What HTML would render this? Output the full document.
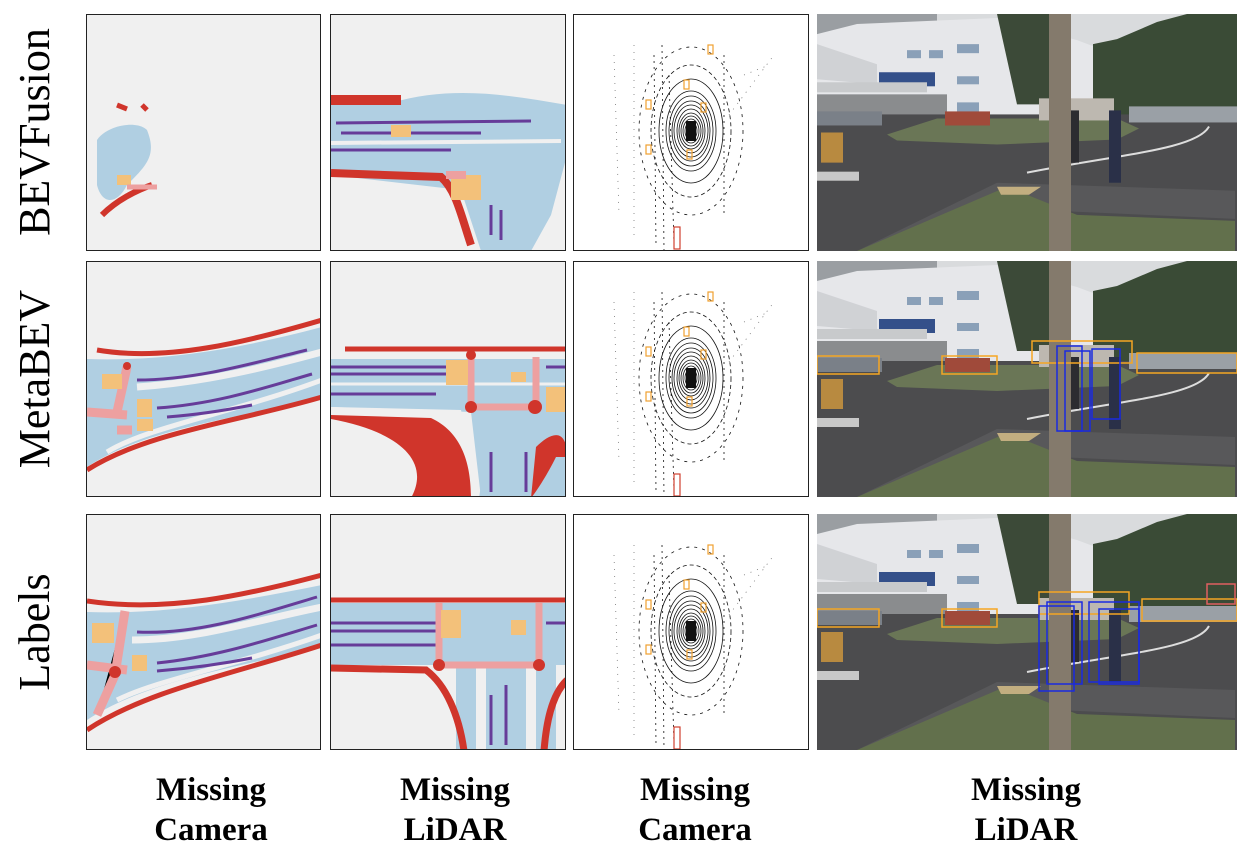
<!DOCTYPE html>
<html><head><meta charset="utf-8"><style>
body{margin:0;background:#fff;width:1240px;height:856px;position:relative;overflow:hidden;font-family:"Liberation Serif",serif}
.p{position:absolute;border:1px solid #222;box-sizing:border-box;overflow:hidden}
.rl{position:absolute;font-size:44px;transform:rotate(-90deg);transform-origin:center;white-space:nowrap;text-align:center;width:240px;height:50px;line-height:50px}
.bl{position:absolute;font-weight:bold;font-size:33px;text-align:center;line-height:40px;width:220px}
svg{display:block}
</style></head><body>
<svg width="0" height="0" style="position:absolute">
<defs>
<symbol id="photo" viewBox="0 0 420 236">
<rect width="420" height="236" fill="#d9dbdd"/>
<rect x="0" y="0" width="120" height="22" fill="#9a9ea2"/>
<polygon points="0,20 40,10 180,4 260,26 276,32 276,100 0,100" fill="#e6e7ea"/>
<polygon points="0,30 60,50 60,70 0,65" fill="#d0d2d5"/>
<rect x="62" y="58" width="56" height="14" fill="#34508a"/>
<rect x="0" y="68" width="110" height="10" fill="#c8cacc"/>
<rect x="0" y="80" width="130" height="25" fill="#8a8c8e"/>
<rect x="140" y="30" width="22" height="9" fill="#8aa0b8"/><rect x="140" y="62" width="22" height="8" fill="#8aa0b8"/><rect x="140" y="88" width="22" height="12" fill="#8aa0b8"/>
<rect x="90" y="36" width="14" height="8" fill="#8aa0b8"/><rect x="112" y="36" width="14" height="8" fill="#8aa0b8"/>
<polygon points="180,0 240,0 236,90 200,90" fill="#3c4a38"/>
<polygon points="276,30 300,25 340,8 370,0 420,0 420,105 276,100" fill="#3a4b36"/>
<rect x="0" y="100" width="420" height="136" fill="#4c4c4e"/>
<polygon points="70,120 120,104 300,104 322,114 300,125 180,130 80,126" fill="#6a7656"/>
<rect x="0" y="97" width="65" height="14" fill="#7a8088"/>
<rect x="128" y="97" width="45" height="14" fill="#a04a3a"/>
<rect x="222" y="84" width="75" height="22" fill="#bdb8b0"/>
<rect x="312" y="92" width="108" height="16" fill="#9aa0a6"/>
<rect x="4" y="118" width="22" height="30" fill="#b88a40"/>
<rect x="0" y="157" width="42" height="9" fill="#c8c8c8"/>
<polygon points="40,236 180,168 418,176 418,204 240,196 220,236" fill="#58585a"/>
<polygon points="40,236 190,172 260,200 418,206 418,236" fill="#62704c"/>
<polygon points="180,172 224,172 212,180 184,180" fill="#c2ae80"/>
<path d="M210,158 C300,140 380,135 392,112" stroke="#ddd" stroke-width="2" fill="none"/>
<rect x="250" y="96" width="12" height="52" fill="#2c2c30"/>
<rect x="292" y="96" width="12" height="72" fill="#2a3048"/>
<rect x="232" y="0" width="22" height="236" fill="#847a6c"/>
</symbol>
<symbol id="lidar" viewBox="0 0 235 236">
<rect width="235" height="236" fill="#fff"/>
<g fill="none" stroke="#111" stroke-width="0.8">
<ellipse cx="117" cy="116" rx="4" ry="6"/><ellipse cx="117" cy="116" rx="6" ry="9"/><ellipse cx="117" cy="116" rx="8" ry="12"/><ellipse cx="117" cy="116" rx="10" ry="15"/><ellipse cx="117" cy="116" rx="12" ry="18"/><ellipse cx="117" cy="116" rx="14" ry="22"/>
<ellipse cx="117" cy="116" rx="17" ry="26"/><ellipse cx="117" cy="116" rx="19" ry="30"/><ellipse cx="117" cy="116" rx="22" ry="35"/><ellipse cx="117" cy="116" rx="25" ry="40"/><ellipse cx="117" cy="116" rx="32" ry="52"/>
<ellipse cx="117" cy="116" rx="40" ry="66" stroke-dasharray="4 3"/><ellipse cx="117" cy="116" rx="52" ry="84" stroke-dasharray="3 5"/>
<path d="M80,40 L82,230 M88,30 L90,236 M150,40 L150,200 M95,60 L100,230" stroke-dasharray="2 4"/>
<path d="M40,40 L45,200 M60,30 L60,220 M170,60 L195,50 M155,100 L200,40" stroke="#777" stroke-dasharray="1 6"/>
</g>
<rect x="112" y="106" width="10" height="20" fill="#111"/>
<g fill="none" stroke="#f0a030" stroke-width="1.2">
<rect x="134" y="30" width="5" height="9"/><rect x="110" y="65" width="5" height="9"/><rect x="72" y="85" width="5" height="9"/><rect x="127" y="88" width="5" height="9"/><rect x="72" y="130" width="5" height="9"/><rect x="113" y="135" width="5" height="9"/>
</g>
<rect x="100" y="212" width="6" height="22" fill="none" stroke="#d04030" stroke-width="1.2"/>
</symbol>
</defs></svg>

<div class="rl" style="left:-85px;top:107px">BEVFusion</div>
<div class="rl" style="left:-85px;top:354px">MetaBEV</div>
<div class="rl" style="left:-85px;top:607px">Labels</div>

<!-- Row 1 -->
<div class="p" style="left:86px;top:14px;width:235px;height:237px"><svg width="235" height="236">
<rect width="235" height="236" fill="#f0f0f0"/>
<path d="M10,125 C20,110 50,105 60,115 C70,140 60,150 40,170 C30,190 15,190 10,170 Z" fill="#b0cfe2"/>
<path d="M15,200 C30,185 50,175 65,170" stroke="#d0352b" stroke-width="6" fill="none"/>
<path d="M30,90 L40,94 M55,90 L60,95" stroke="#d0352b" stroke-width="5"/>
<rect x="30" y="160" width="14" height="10" fill="#f3c17a"/>
<path d="M40,172 L70,172" stroke="#eda0a0" stroke-width="5"/>
</svg></div>
<div class="p" style="left:330px;top:14px;width:236px;height:237px"><svg width="236" height="236">
<rect width="236" height="236" fill="#f0f0f0"/>
<path d="M0,90 L60,88 C120,70 180,80 236,90 L236,140 L220,200 L200,236 L150,236 L130,175 L0,160 Z" fill="#b0cfe2"/>
<path d="M0,85 L70,85" stroke="#d0352b" stroke-width="10"/>
<path d="M0,158 L110,162 C125,175 130,200 140,230" stroke="#d0352b" stroke-width="8" fill="none"/>
<path d="M5,108 L200,106 M10,118 L150,118 M0,135 L120,135" stroke="#663c99" stroke-width="3"/>
<path d="M0,128 L230,126" stroke="#f0f0f0" stroke-width="4"/>
<rect x="120" y="160" width="30" height="25" fill="#f3c17a"/><rect x="60" y="110" width="20" height="12" fill="#f3c17a"/>
<path d="M115,160 L135,160" stroke="#eda0a0" stroke-width="8"/>
<path d="M160,190 L160,220 M170,195 L170,225" stroke="#663c99" stroke-width="3"/>
</svg></div>
<div class="p" style="left:573px;top:14px;width:236px;height:237px"><svg width="235" height="236"><use href="#lidar"/></svg></div>
<div style="position:absolute;left:817px;top:14px;width:420px;height:237px"><svg width="420" height="237" preserveAspectRatio="none" viewBox="0 0 420 236"><use href="#photo"/></svg></div>

<!-- Row 2 -->
<div class="p" style="left:86px;top:261px;width:235px;height:236px"><svg width="235" height="236">
<rect width="235" height="236" fill="#f0f0f0"/>
<path d="M0,97 C80,100 160,85 235,65 L235,135 C160,155 60,165 0,205 Z" fill="#b0cfe2"/>
<path d="M10,88 C80,100 160,80 235,58" stroke="#d0352b" stroke-width="5" fill="none"/>
<path d="M0,208 C60,170 150,160 235,135" stroke="#d0352b" stroke-width="5" fill="none"/>
<path d="M50,125 C120,120 180,105 235,90" stroke="#f0f0f0" stroke-width="7" fill="none"/>
<path d="M20,190 C60,165 150,150 235,118" stroke="#f0f0f0" stroke-width="5" fill="none"/>
<path d="M50,118 C110,118 170,100 220,88 M70,146 C130,142 180,125 225,112 M80,155 C120,152 150,146 165,143" stroke="#663c99" stroke-width="3" fill="none"/>
<path d="M40,105 L30,150 M0,150 L40,153 M30,168 L45,168" stroke="#eda0a0" stroke-width="9"/>
<rect x="15" y="112" width="20" height="15" fill="#f3c17a"/><rect x="50" y="137" width="15" height="18" fill="#f3c17a"/><rect x="50" y="157" width="16" height="12" fill="#f3c17a"/>
<circle cx="40" cy="104" r="4" fill="#d0352b"/>
</svg></div>
<div class="p" style="left:330px;top:261px;width:236px;height:236px"><svg width="236" height="236">
<rect width="236" height="236" fill="#f0f0f0"/>
<path d="M0,97 L236,97 L236,145 L236,236 L150,236 L140,150 L0,145 Z" fill="#b0cfe2"/>
<path d="M0,145 L130,148 L150,236 L125,236 Z" fill="#f0f0f0"/>
<path d="M80,236 C100,200 70,170 0,157 L0,153 L100,156 C130,170 140,200 140,236 Z" fill="#d0352b"/>
<path d="M148,236 L160,160 L220,160 L236,236 Z" fill="#b0cfe2"/>
<path d="M14,87 L236,87" stroke="#d0352b" stroke-width="5"/>
<path d="M0,105 L140,105 M0,112 L140,112 M0,132 L105,132 M215,105 L236,105 M215,132 L236,132 M160,190 L160,230 M195,190 L195,230" stroke="#663c99" stroke-width="3"/>
<path d="M0,122 L236,122" stroke="#f0f0f0" stroke-width="3"/>
<path d="M140,95 L140,145 M205,95 L205,145 M140,145 L205,145" stroke="#eda0a0" stroke-width="7"/>
<circle cx="140" cy="145" r="6" fill="#d0352b"/><circle cx="204" cy="145" r="7" fill="#d0352b"/><circle cx="140" cy="93" r="5" fill="#d0352b"/>
<rect x="115" y="98" width="22" height="25" fill="#f3c17a"/><rect x="180" y="110" width="15" height="10" fill="#f3c17a"/><rect x="215" y="125" width="20" height="25" fill="#f3c17a"/>
<path d="M205,185 C220,170 236,165 236,195 L225,195 C215,215 205,230 200,236 Z" fill="#d0352b"/>
</svg></div>
<div class="p" style="left:573px;top:261px;width:236px;height:236px"><svg width="235" height="236"><use href="#lidar"/></svg></div>
<div style="position:absolute;left:817px;top:261px;width:420px;height:236px"><svg width="420" height="236" viewBox="0 0 420 236" preserveAspectRatio="none"><use href="#photo"/>
<g fill="none" stroke="#f5a623" stroke-width="1.5"><rect x="0" y="95" width="62" height="18"/><rect x="125" y="95" width="55" height="18"/><rect x="215" y="80" width="100" height="22"/><rect x="320" y="92" width="100" height="20"/></g>
<g fill="none" stroke="#1a2ae0" stroke-width="1.5"><rect x="240" y="85" width="25" height="85"/><rect x="248" y="90" width="25" height="80"/><rect x="275" y="88" width="28" height="70"/></g>
</svg></div>

<!-- Row 3 -->
<div class="p" style="left:86px;top:514px;width:235px;height:236px"><svg width="235" height="236">
<rect width="235" height="236" fill="#f0f0f0"/>
<path d="M0,97 C80,100 160,85 235,70 L235,132 C160,150 60,165 0,205 Z" fill="#b0cfe2"/>
<path d="M0,86 C80,98 160,80 235,60" stroke="#d0352b" stroke-width="5" fill="none"/>
<path d="M0,215 C60,175 150,158 235,130" stroke="#d0352b" stroke-width="5" fill="none"/>
<path d="M45,125 C110,125 170,105 235,92" stroke="#f0f0f0" stroke-width="7" fill="none"/>
<path d="M30,185 C70,165 150,150 235,120" stroke="#f0f0f0" stroke-width="5" fill="none"/>
<path d="M50,117 C110,120 170,100 230,82 M70,148 C130,142 180,125 230,110 M70,156 C120,152 150,146 165,143" stroke="#663c99" stroke-width="3" fill="none"/>
<path d="M38,96 L28,160 L10,200 M0,150 L40,155" stroke="#eda0a0" stroke-width="9"/>
<circle cx="28" cy="157" r="6" fill="#d0352b"/>
<rect x="5" y="108" width="22" height="20" fill="#f3c17a"/><rect x="45" y="140" width="15" height="16" fill="#f3c17a"/>
</svg></div>
<div class="p" style="left:330px;top:514px;width:236px;height:236px"><svg width="236" height="236">
<rect width="236" height="236" fill="#f0f0f0"/>
<path d="M0,88 L236,88 L236,150 L0,150 Z" fill="#b0cfe2"/>
<path d="M125,150 L225,150 L225,236 L125,236 Z" fill="#b0cfe2"/>
<path d="M150,150 L150,236 M200,150 L200,236" stroke="#f0f0f0" stroke-width="10"/>
<path d="M0,85 L236,85" stroke="#d0352b" stroke-width="5"/>
<path d="M0,153 L95,155 C115,170 128,200 133,236" stroke="#d0352b" stroke-width="7" fill="none"/>
<path d="M236,165 C220,180 215,210 213,236" stroke="#d0352b" stroke-width="7" fill="none"/>
<path d="M0,108 L105,108 M0,116 L105,116 M0,130 L105,130 M160,180 L160,230 M175,170 L175,230 M215,108 L236,108" stroke="#663c99" stroke-width="3"/>
<path d="M108,88 L108,150 M208,88 L208,150 M108,150 L208,150" stroke="#eda0a0" stroke-width="7"/>
<circle cx="108" cy="150" r="6" fill="#d0352b"/><circle cx="208" cy="150" r="6" fill="#d0352b"/>
<rect x="110" y="95" width="20" height="28" fill="#f3c17a"/><rect x="180" y="105" width="15" height="15" fill="#f3c17a"/>
</svg></div>
<div class="p" style="left:573px;top:514px;width:236px;height:236px"><svg width="235" height="236"><use href="#lidar"/></svg></div>
<div style="position:absolute;left:817px;top:514px;width:420px;height:236px"><svg width="420" height="236" viewBox="0 0 420 236" preserveAspectRatio="none"><use href="#photo"/>
<g fill="none" stroke="#f5a623" stroke-width="1.5"><rect x="0" y="95" width="62" height="18"/><rect x="125" y="95" width="55" height="18"/><rect x="222" y="78" width="90" height="22"/><rect x="325" y="85" width="95" height="22"/></g>
<rect x="390" y="70" width="28" height="20" fill="none" stroke="#e06060" stroke-width="1.5"/>
<g fill="none" stroke="#1a2ae0" stroke-width="1.5"><rect x="222" y="92" width="35" height="85"/><rect x="230" y="88" width="35" height="82"/><rect x="272" y="88" width="50" height="80"/><rect x="282" y="95" width="40" height="75"/></g>
</svg></div>

<div class="bl" style="left:101px;top:770px">Missing<br>Camera</div>
<div class="bl" style="left:345px;top:770px">Missing<br>LiDAR</div>
<div class="bl" style="left:585px;top:770px">Missing<br>Camera</div>
<div class="bl" style="left:916px;top:770px">Missing<br>LiDAR</div>
</body></html>
